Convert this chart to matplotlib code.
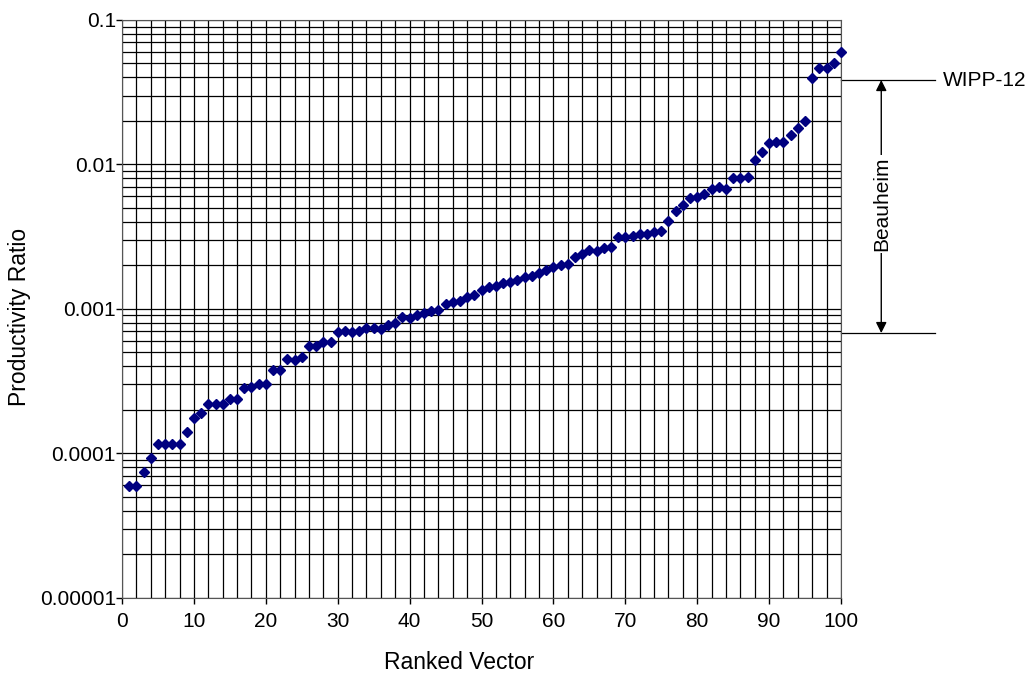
import numpy as np
import matplotlib.pyplot as plt

plt.rcParams['font.family'] = ['Liberation Sans', 'DejaVu Sans']

# ranked productivity ratios
rank = np.arange(1, 101)
ratio = [
    5.9e-5, 5.9e-5, 7.4e-5, 9.3e-5, 1.16e-4, 1.16e-4, 1.16e-4, 1.16e-4, 1.40e-4, 1.75e-4,
    1.89e-4, 2.21e-4, 2.21e-4, 2.21e-4, 2.36e-4, 2.36e-4, 2.81e-4, 2.86e-4, 3.0e-4, 3.0e-4,
    3.77e-4, 3.77e-4, 4.47e-4, 4.4e-4, 4.66e-4, 5.52e-4, 5.5e-4, 5.89e-4, 5.9e-4, 6.87e-4,
    7.0e-4, 6.9e-4, 7.0e-4, 7.33e-4, 7.33e-4, 7.3e-4, 7.73e-4, 7.93e-4, 8.81e-4, 8.7e-4,
    9.0e-4, 9.3e-4, 9.66e-4, 9.8e-4, 1.08e-3, 1.12e-3, 1.14e-3, 1.21e-3, 1.25e-3, 1.35e-3,
    1.41e-3, 1.45e-3, 1.51e-3, 1.54e-3, 1.58e-3, 1.65e-3, 1.69e-3, 1.76e-3, 1.86e-3, 1.96e-3,
    2.0e-3, 2.04e-3, 2.3e-3, 2.41e-3, 2.55e-3, 2.50e-3, 2.63e-3, 2.67e-3, 3.16e-3, 3.16e-3,
    3.21e-3, 3.30e-3, 3.30e-3, 3.42e-3, 3.47e-3, 4.05e-3, 4.75e-3, 5.21e-3, 5.82e-3, 5.91e-3,
    6.24e-3, 6.74e-3, 6.95e-3, 6.8e-3, 8.0e-3, 8.0e-3, 8.22e-3, 1.07e-2, 1.22e-2, 1.40e-2,
    1.42e-2, 1.42e-2, 1.60e-2, 1.80e-2, 2.0e-2, 3.98e-2, 4.62e-2, 4.62e-2, 5.02e-2, 6.04e-2,
]

y_ticks = [1e-5, 1e-4, 1e-3, 1e-2, 1e-1]
y_tick_labels = ['0.00001', '0.0001', '0.001', '0.01', '0.1']

# Beauheim range
wipp12 = 0.0384
beauheim_low = 6.8e-4

fig = plt.figure(figsize=(10.29, 6.75), dpi=100)
ax = fig.add_axes([0.1186, 0.1145, 0.6987, 0.8559])

ax.set_yscale('log')
ax.set_xlim(0, 100)
ax.set_ylim(1e-5, 0.1)

# grid: every 2 on x, log minors on y
ax.set_xticks(np.arange(0, 101, 10))
ax.set_xticks(np.arange(0, 101, 2), minor=True)
ax.set_yticks(y_ticks)
ax.set_yticklabels(y_tick_labels)
ax.grid(True, which='both', color='black', linewidth=0.9)
ax.set_axisbelow(True)
ax.tick_params(axis='x', which='major', labelsize=15, length=4, width=1, pad=6)
ax.tick_params(axis='y', which='major', labelsize=15, length=4, width=1, pad=0.5)
ax.tick_params(axis='both', which='minor', length=0)
ax.tick_params(axis='y', which='minor', labelleft=False)
for s in ax.spines.values():
    s.set_color('#555555')

ax.plot(rank, ratio, linestyle='none', marker='D', markersize=5.5,
        color='#000080', zorder=3, clip_on=False)

ax.set_xlabel('Ranked Vector', fontsize=16.5, va='center')
ax.set_ylabel('Productivity Ratio', fontsize=16.5, va='center')
ax.xaxis.set_label_coords(0.469, -0.113)
ax.yaxis.set_label_coords(-0.142, 0.486)

# annotation on the right
ax.plot([100, 113.1], [wipp12, wipp12], color='black', lw=0.9, clip_on=False)
ax.plot([100, 113.1], [beauheim_low, beauheim_low], color='black', lw=0.9, clip_on=False)
ax.annotate('', xy=(105.6, wipp12), xytext=(105.6, beauheim_low),
            arrowprops=dict(arrowstyle='<|-|>', color='black', lw=1, mutation_scale=16,
                            shrinkA=0, shrinkB=0),
            annotation_clip=False)
ax.text(114.2, wipp12, 'WIPP-12', fontsize=15, ha='left', va='center', clip_on=False)
ax.text(105.6, 10 ** -2.274, 'Beauheim', fontsize=15, rotation=90, ha='center', va='center',
        clip_on=False, bbox=dict(facecolor='white', edgecolor='none', pad=1))

fig.savefig('out.png', dpi=100)
